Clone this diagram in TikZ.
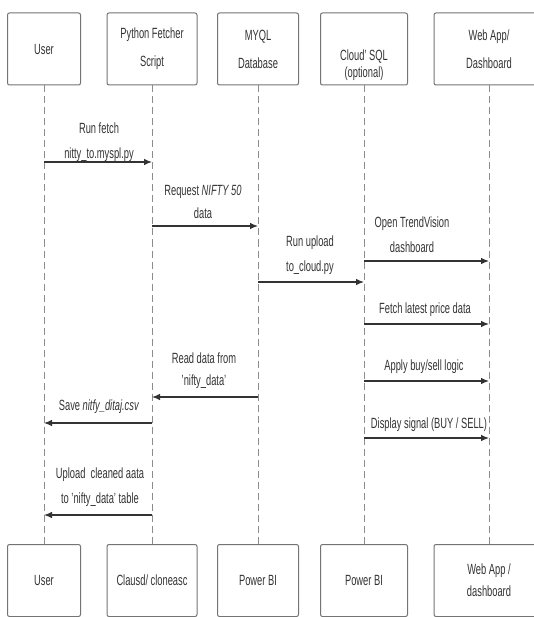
\documentclass[tikz,border=0pt]{standalone}
\usepackage{fontspec}
\setmainfont{Liberation Sans}[FakeStretch=0.63]
\usepackage{tikz}
\usetikzlibrary{arrows.meta}
\definecolor{inkgray}{HTML}{333333}
\definecolor{boxgray}{HTML}{747474}
\definecolor{linegray}{HTML}{8c8c8c}
\tikzset{
  lifebox/.style={
    draw=boxgray, line width=1pt, rounded corners=2pt,
    fill=white, text=inkgray, align=center,
    font=\fontsize{14.8}{28}\selectfont,
    inner sep=0pt, minimum height=72pt},
  boxtext/.style={
    text=inkgray, align=center, inner sep=0pt,
    font=\fontsize{14.8}{17}\selectfont},
  lifeline/.style={
    draw=linegray, line width=0.8pt, dash pattern=on 7pt off 4pt},
  msgarrow/.style={
    -{Latex[length=8pt,width=6.5pt]}, line width=1.1pt, color=inkgray},
  msglabel/.style={
    text=inkgray, align=center, inner sep=0pt,
    font=\fontsize{14.8}{25}\selectfont},
}

\begin{document}
\begin{tikzpicture}[x=1pt, y=-1pt]
  \useasboundingbox (0,0) rectangle (533,617);
  % participants
  \node[lifebox, minimum width=73pt]  (user)  at (44,49)  {User};
  \node[lifebox, minimum width=90pt]  (py)    at (152,49) {Python Fetcher\\Script};
  \node[lifebox, minimum width=81pt]  (db)    at (258,49) {MYQL\\Database};
  \node[lifebox, minimum width=87pt]  (cloud) at (364,49) {};
  \node[boxtext]                      (cloudtxt) at (364,65) {Cloud' SQL\\(optional)};
  \node[lifebox, minimum width=110pt] (web)   at (489,49) {Web App/\\Dashboard};

  \node[lifebox, minimum width=73pt]  (userb)  at (44,580.5)  {User};
  \node[lifebox, minimum width=90pt]  (pyb)    at (152,580.5) {Clausd/ cloneasc};
  \node[lifebox, minimum width=81pt]  (dbb)    at (258,580.5) {Power BI};
  \node[lifebox, minimum width=87pt]  (cloudb) at (364,580.5) {Power BI};
  \node[lifebox, minimum width=110pt, font=\fontsize{14.8}{22}\selectfont]
                                      (webb)   at (489,580.5) {Web App /\\dashboard};

  \foreach \a in {user,py,db,cloud,web}
    \draw[lifeline] (\a.south) -- (\a b.north);

  % message rows
  \path (0,162) coordinate (r1) (0,226) coordinate (r2) (0,282) coordinate (r3)
        (0,261) coordinate (r4) (0,324) coordinate (r5) (0,381) coordinate (r6)
        (0,438) coordinate (r7) (0,397) coordinate (r8) (0,423) coordinate (r9)
        (0,515) coordinate (r10);

  \node[msglabel] (m1) at (99,142.5) {Run fetch\\nitty\_to.myspl.py};
  \node[msglabel, font=\fontsize{14.8}{23}\selectfont] (m2) at (203,201.5) {Request \textit{NIFTY 50}\\data};
  \node[msglabel] (m3) at (310,255.5) {Run upload\\to\_cloud.py};
  \node[msglabel] (m4) at (412,234.5) {Open TrendVision\\dashboard};
  \node[msglabel] (m5) at (425,310) {Fetch latest price data};
  \node[msglabel] (m6) at (424,367) {Apply buy/sell logic};
  \node[msglabel] (m7) at (429,425) {Display signal (BUY / SELL)};
  \node[msglabel, font=\fontsize{14.8}{22}\selectfont] (m8) at (204,371) {Read data from\\'nifty\_data'};
  \node[msglabel] (m9) at (99,407) {Save \textit{nitfy\_ditaj.csv}};
  \node[msglabel] (m10) at (100,487.5) {Upload\ \ cleaned aata\\to 'nifty\_data' table};

  \draw[msgarrow] (user |- r1) -- (py |- r1);
  \draw[msgarrow] (py |- r2) -- (db |- r2);
  \draw[msgarrow] (db |- r3) -- (cloud |- r3);
  \draw[msgarrow] (cloud |- r4) -- (web |- r4);
  \draw[msgarrow] (cloud |- r5) -- (web |- r5);
  \draw[msgarrow] (cloud |- r6) -- (web |- r6);
  \draw[msgarrow] (cloud |- r7) -- (web |- r7);
  \draw[msgarrow] (db |- r8) -- (py |- r8);
  \draw[msgarrow] (py |- r9) -- (user |- r9);
  \draw[msgarrow] (py |- r10) -- (user |- r10);
\end{tikzpicture}
\end{document}
